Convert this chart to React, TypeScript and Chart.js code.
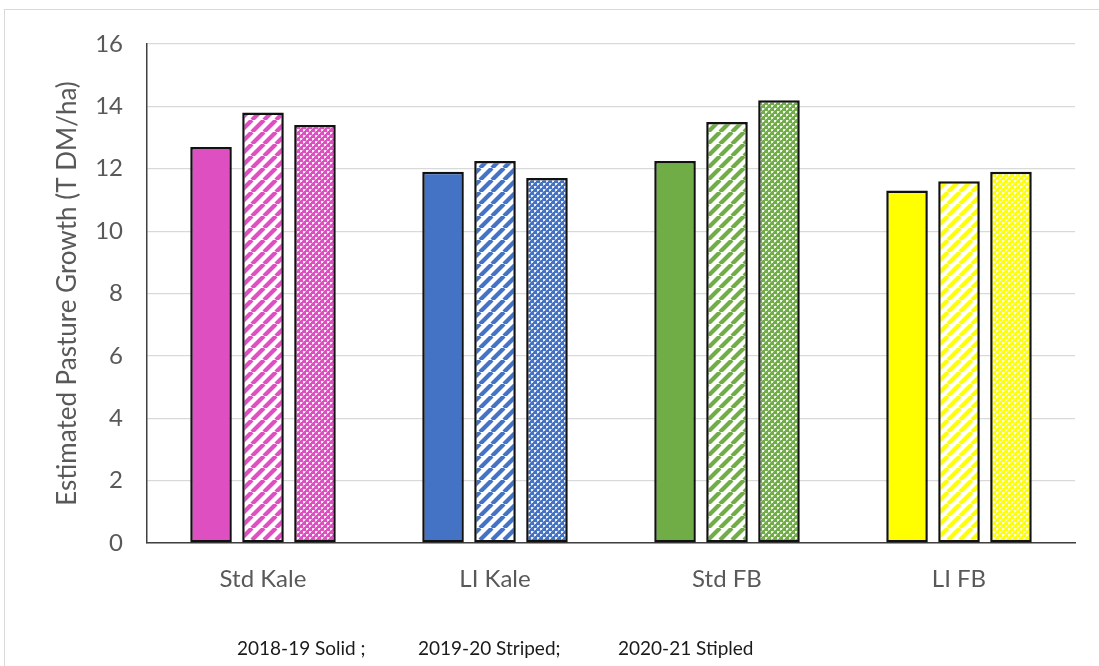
import React, { useEffect, useRef } from "react";
import { Chart, registerables } from "chart.js";

Chart.register(...registerables);

const categories = ["Std Kale", "LI Kale", "Std FB", "LI FB"];
const solid2018 = [12.7, 11.9, 12.25, 11.3];
const striped2019 = [13.8, 12.25, 13.5, 11.6];
const stippled2020 = [13.4, 11.7, 14.2, 11.9];
const seasonLabels = ["2018-19 Solid", "2019-20 Striped", "2020-21 Stipled"];
const captionParts = ["2018-19 Solid ;", "2019-20 Striped;", "2020-21 Stipled"];
const categoryColors = ["#DE50C1", "#4472C4", "#70AD47", "#FFFF00"];
const yMax = 16;
const yStep = 2;
const yTitle = "Estimated Pasture Growth (T DM/ha)";

const FONT = "Lato, 'Open Sans', sans-serif";
const TEXT = "#595959";

function stripePattern(ctx: CanvasRenderingContext2D, color: string) {
  const s = 12;
  const c = document.createElement("canvas");
  c.width = s;
  c.height = s;
  const g = c.getContext("2d")!;
  g.fillStyle = "#ffffff";
  g.fillRect(0, 0, s, s);
  g.strokeStyle = color;
  g.lineWidth = 4.2;
  for (let k = -1; k <= 1; k++) {
    g.beginPath();
    g.moveTo(k * s, s);
    g.lineTo(k * s + s, 0);
    g.stroke();
  }
  return ctx.createPattern(c, "repeat")!;
}

function stipplePattern(ctx: CanvasRenderingContext2D, color: string) {
  const s = 6;
  const c = document.createElement("canvas");
  c.width = s;
  c.height = s;
  const g = c.getContext("2d")!;
  g.fillStyle = color;
  g.fillRect(0, 0, s, s);
  g.fillStyle = "rgba(255,255,255,0.9)";
  g.fillRect(0, 0, 2, 2);
  g.fillRect(3, 3, 2, 2);
  g.fillStyle = "rgba(255,255,255,0.45)";
  g.fillRect(2, 0, 1, 1);
  g.fillRect(0, 2, 1, 1);
  g.fillRect(5, 3, 1, 1);
  g.fillRect(3, 5, 1, 1);
  return ctx.createPattern(c, "repeat")!;
}

export default function App() {
  const ref = useRef<HTMLCanvasElement | null>(null);

  useEffect(() => {
    const canvas = ref.current!;
    const ctx = canvas.getContext("2d")!;
    const border = { borderColor: "#111111", borderWidth: 2.5, borderSkipped: false as const };
    const chart = new Chart(canvas, {
      type: "bar",
      data: {
        labels: categories,
        datasets: [
          {
            label: seasonLabels[0],
            data: solid2018,
            backgroundColor: categoryColors,
            ...border,
          },
          {
            label: seasonLabels[1],
            data: striped2019,
            backgroundColor: categoryColors.map((c) => stripePattern(ctx, c)),
            ...border,
          },
          {
            label: seasonLabels[2],
            data: stippled2020,
            backgroundColor: categoryColors.map((c) => stipplePattern(ctx, c)),
            ...border,
          },
        ],
      },
      options: {
        responsive: false,
        animation: false,
        layout: { padding: { left: 0, right: 24, top: 44, bottom: 0 } },
        datasets: {
          bar: { categoryPercentage: 0.672, barPercentage: 0.8 },
        },
        plugins: {
          legend: { display: false },
          tooltip: { enabled: false },
          title: { display: false },
        },
        scales: {
          x: {
            grid: { display: false, drawTicks: false },
            border: { display: true, color: "#404040", width: 1.5 },
            ticks: {
              color: TEXT,
              font: { family: FONT, size: 24 },
              padding: 22,
              maxRotation: 0,
            },
            afterFit: (scale: any) => {
              scale.height = 666 - 543;
            },
          },
          y: {
            min: 0,
            max: yMax,
            ticks: {
              stepSize: yStep,
              color: TEXT,
              font: { family: FONT, size: 24 },
              padding: 24,
            },
            grid: { color: "#d9d9d9", lineWidth: 1.2, drawTicks: false },
            border: { display: true, color: "#404040", width: 1.5 },
            title: {
              display: true,
              text: yTitle,
              color: TEXT,
              font: { family: FONT, size: 26 },
              padding: { top: 52, bottom: 0 },
            },
            afterFit: (scale: any) => {
              scale.width = 147;
            },
          },
        },
      },
    });
    return () => chart.destroy();
  }, []);

  const captionLeft = [237, 418, 618];

  return (
    <div
      style={{
        position: "fixed",
        left: 0,
        top: 0,
        width: 1099,
        height: 666,
        overflow: "hidden",
        background: "#ffffff",
      }}
    >
      <div
        style={{
          position: "absolute",
          left: 4,
          top: 9,
          width: 1200,
          height: 800,
          border: "1px solid #d9d9d9",
          boxSizing: "border-box",
        }}
      />
      <canvas ref={ref} width={1099} height={666} style={{ position: "absolute", left: 0, top: 0 }} />
      {captionParts.map((t, i) => (
        <span
          key={t}
          style={{
            position: "absolute",
            left: captionLeft[i],
            top: 636,
            fontFamily: FONT,
            fontSize: 19,
            color: "#1a1a1a",
            whiteSpace: "pre",
            lineHeight: "24px",
          }}
        >
          {t}
        </span>
      ))}
    </div>
  );
}
